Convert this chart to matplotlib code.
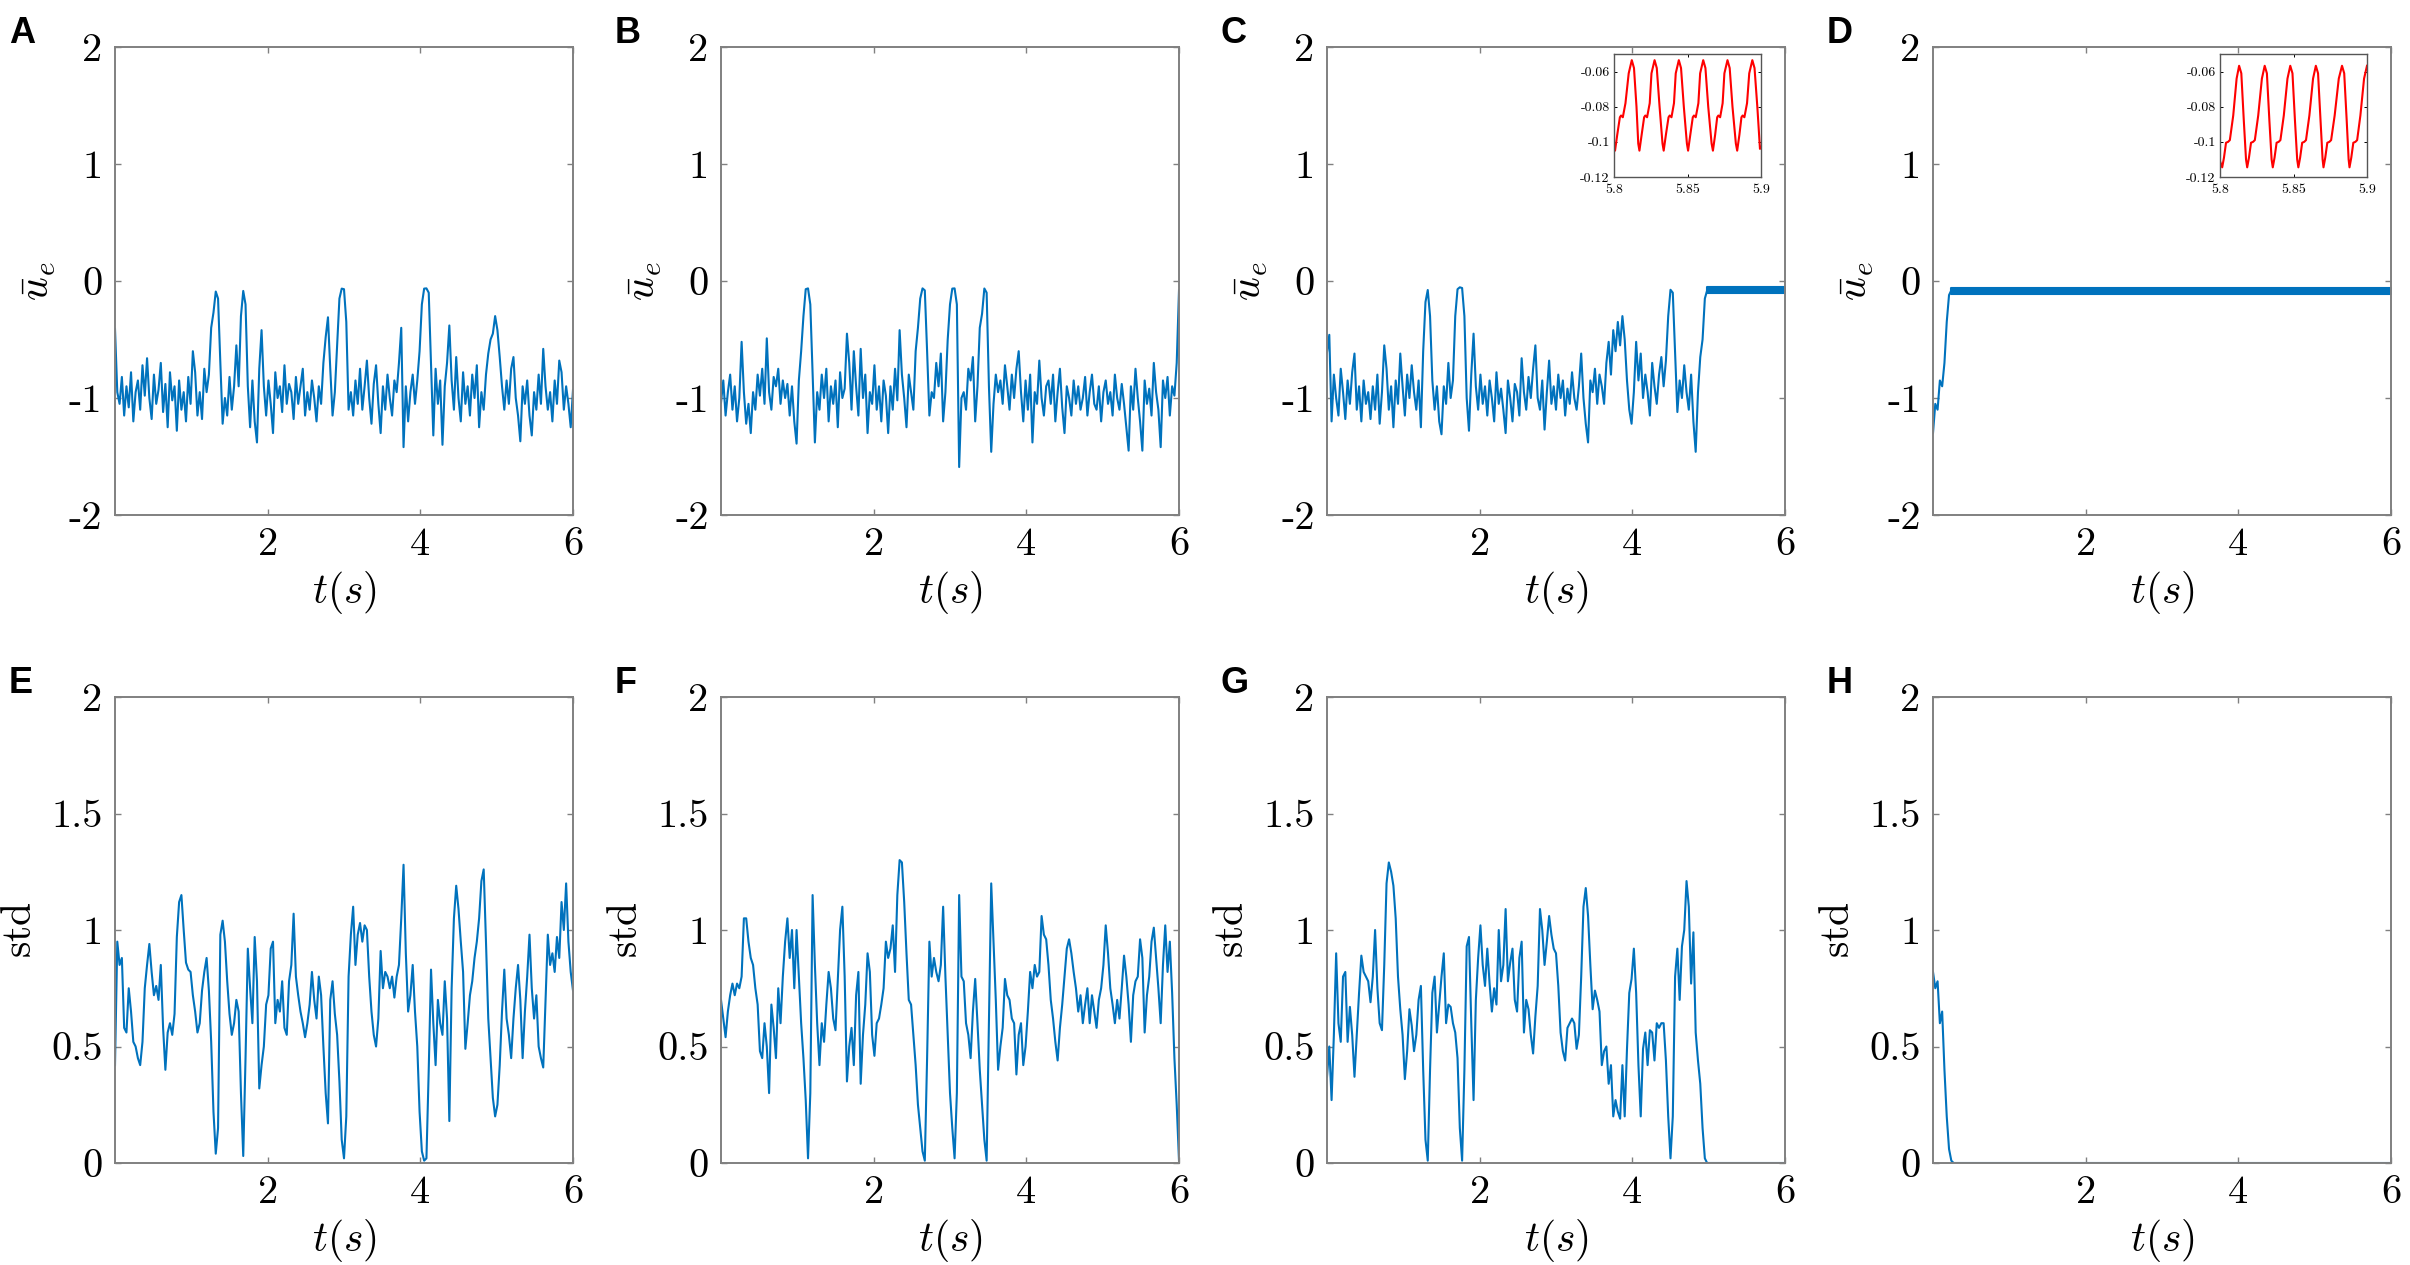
import numpy as np
import matplotlib.pyplot as plt

plt.rcParams['mathtext.fontset'] = 'cm'
plt.rcParams['axes.unicode_minus'] = False

DT = 0.03

# mean membrane potential, panels A-C (0.03 s apart)
A_ue = [-0.41, -0.95, -1.05, -0.82, -1.15, -0.9, -1.08, -0.78, -1.2, -0.95,
        -0.85, -1.1, -0.72, -0.98, -0.66, -1.0, -1.18, -0.8, -1.05, -0.93,
        -0.7, -1.12, -0.88, -1.25, -0.78, -1.02, -0.9, -1.28, -0.85, -1.1,
        -0.95, -1.2, -0.82, -1.05, -0.6, -0.78, -1.15, -0.95, -1.18, -0.75,
        -0.95, -0.8, -0.4, -0.27, -0.09, -0.15, -0.7, -1.22, -1.0, -1.15,
        -0.82, -1.1, -0.9, -0.55, -0.9, -0.3, -0.085, -0.2, -0.9, -1.25,
        -0.85, -1.2, -1.38, -0.75, -0.42, -0.9, -1.15, -0.85, -1.05, -1.3,
        -0.78, -1.0, -0.9, -1.12, -0.72, -1.05, -0.88, -0.95, -1.18, -0.82,
        -1.05, -0.9, -0.75, -1.15, -0.95, -1.1, -0.85, -1.0, -1.2, -0.9,
        -1.05, -0.7, -0.48, -0.31, -0.75, -1.15, -0.95, -0.55, -0.15, -0.065,
        -0.07, -0.35, -1.1, -0.95, -1.15, -0.85, -1.05, -0.75, -1.1, -0.9,
        -0.68, -1.0, -1.22, -0.88, -0.72, -1.05, -1.3, -0.9, -1.1, -0.8,
        -1.0, -1.15, -0.85, -0.95, -0.7, -0.4, -1.42, -0.9, -1.2, -0.95,
        -0.8, -1.05, -0.85, -0.6, -0.2, -0.065, -0.063, -0.1, -0.7, -1.32,
        -0.75, -1.05, -0.85, -1.4, -0.9, -0.7, -0.38, -0.85, -1.1, -0.65,
        -1.0, -1.2, -0.78, -1.05, -0.9, -1.15, -0.8, -1.0, -0.72, -1.25,
        -0.95, -1.1, -0.8, -0.62, -0.5, -0.45, -0.3, -0.42, -0.65, -0.9,
        -1.1, -0.85, -1.05, -0.75, -0.65, -1.0, -1.15, -1.37, -0.9, -1.05,
        -0.85, -1.15, -1.32, -0.95, -1.1, -0.8, -1.05, -0.58, -0.9, -1.1,
        -0.95, -1.2, -0.85, -1.05, -0.68, -0.78, -1.1, -0.9, -1.05, -1.25,
        -0.93]

B_ue = [-1.04, -0.85, -1.15, -0.95, -0.8, -1.1, -0.9, -1.2, -1.0, -0.52,
        -0.95, -1.22, -1.05, -1.3, -0.95, -1.1, -0.8, -0.98, -0.75, -1.05,
        -0.49, -0.95, -1.1, -0.82, -0.9, -0.75, -1.05, -0.85, -1.0, -0.88,
        -1.15, -0.9, -1.2, -1.39, -0.85, -0.6, -0.3, -0.07, -0.063, -0.2,
        -0.8, -1.38, -0.95, -1.1, -0.8, -1.0, -0.75, -1.2, -0.9, -1.05,
        -0.85, -1.25, -0.78, -1.0, -0.92, -0.45, -0.7, -1.1, -0.6, -0.9,
        -1.15, -0.58, -1.0, -0.8, -1.3, -0.95, -1.05, -0.72, -1.1, -0.9,
        -1.2, -0.85, -0.98, -1.3, -0.9, -1.1, -0.75, -1.02, -0.42, -0.8,
        -1.0, -1.25, -0.8, -0.95, -1.1, -0.6, -0.4, -0.15, -0.063, -0.08,
        -0.6, -1.15, -0.95, -1.0, -0.7, -0.9, -0.62, -1.2, -0.95, -0.5,
        -0.2, -0.065, -0.063, -0.2, -1.59, -1.0, -0.95, -1.1, -0.75, -0.85,
        -0.65, -1.2, -0.9, -0.4, -0.28, -0.064, -0.1, -0.9, -1.46, -1.05,
        -0.8, -0.95, -0.85, -1.05, -0.72, -0.9, -1.1, -0.8, -1.0, -0.75,
        -0.6, -0.95, -1.2, -0.85, -1.1, -0.8, -1.38, -0.95, -1.05, -0.68,
        -1.0, -1.15, -0.9, -0.85, -1.05, -0.8, -1.2, -0.95, -0.75, -1.08,
        -1.3, -0.9, -1.0, -1.15, -0.85, -1.05, -0.9, -1.1, -1.0, -0.82,
        -1.15, -0.95, -0.8, -1.05, -1.1, -0.9, -1.2, -0.95, -0.85, -1.05,
        -0.95, -1.15, -0.8, -1.0, -1.1, -0.88, -1.05, -1.25, -1.45, -0.9,
        -1.1, -0.75, -1.0, -1.2, -1.45, -0.85, -1.05, -0.92, -1.15, -0.7,
        -0.95, -1.1, -1.42, -0.85, -1.0, -0.82, -1.15, -0.9, -0.98, -0.7,
        -0.08]

C_ue = [-0.61, -0.46, -1.2, -0.8, -1.0, -1.15, -0.75, -0.95, -1.18, -0.85,
        -1.05, -0.78, -0.62, -1.1, -0.9, -1.2, -0.85, -1.05, -0.95, -1.18,
        -0.9, -1.1, -0.8, -1.22, -0.95, -0.55, -0.75, -1.1, -0.9, -1.25,
        -0.85, -1.05, -0.62, -0.9, -1.15, -0.8, -1.0, -0.72, -0.95, -1.1,
        -0.85, -1.25, -0.6, -0.18, -0.077, -0.3, -0.85, -1.1, -0.9, -1.2,
        -1.31, -0.9, -1.05, -0.7, -1.0, -0.85, -0.3, -0.07, -0.054, -0.06,
        -0.3, -1.0, -1.28, -0.8, -0.45, -0.9, -1.1, -0.8, -1.05, -0.9,
        -1.15, -0.85, -1.0, -1.2, -0.78, -1.05, -0.92, -1.1, -1.3, -0.85,
        -1.0, -1.2, -0.88, -0.95, -1.15, -0.66, -0.95, -1.1, -0.82, -1.0,
        -0.75, -0.55, -1.0, -1.1, -0.85, -1.27, -0.95, -0.68, -1.05, -0.9,
        -1.1, -0.8, -1.0, -0.85, -1.15, -0.92, -1.05, -0.78, -1.0, -1.1,
        -0.9, -0.62, -1.0, -1.22, -1.38, -0.85, -0.95, -0.75, -1.05, -0.8,
        -0.9, -1.05, -0.7, -0.52, -0.8, -0.42, -0.6, -0.35, -0.55, -0.3,
        -0.5, -0.85, -1.1, -1.22, -0.95, -0.52, -0.85, -0.62, -1.0, -0.8,
        -0.95, -1.15, -0.7, -0.9, -1.05, -0.8, -0.65, -0.9, -0.68, -0.3,
        -0.075, -0.1, -0.6, -1.12, -0.85, -1.0, -0.72, -0.95, -1.1, -0.8,
        -1.2, -1.46, -0.95, -0.65, -0.5, -0.15, -0.08]

D_t = [0.0, 0.03, 0.06, 0.09, 0.12, 0.15, 0.18, 0.21, 0.24]
D_ue = [-1.3, -1.05, -1.1, -0.85, -0.9, -0.7, -0.35, -0.12, -0.08]

# fast oscillation after the transition, drawn as a band (its min / max)
C_band_t = [4.98, 6.0]
C_band_lo = [-0.105, -0.105]
C_band_hi = [-0.053, -0.053]
D_band_t = [0.24, 6.0]
D_band_lo = [-0.114, -0.114]
D_band_hi = [-0.057, -0.057]

# standard deviation, panels E-H
E_std = [0.42, 0.95, 0.85, 0.88, 0.58, 0.56, 0.75, 0.65, 0.52, 0.5,
         0.45, 0.42, 0.52, 0.75, 0.85, 0.94, 0.82, 0.72, 0.76, 0.7,
         0.85, 0.58, 0.4, 0.56, 0.6, 0.55, 0.64, 0.97, 1.12, 1.15,
         1.0, 0.86, 0.83, 0.82, 0.72, 0.65, 0.56, 0.6, 0.74, 0.82,
         0.88, 0.74, 0.52, 0.22, 0.04, 0.15, 0.98, 1.04, 0.95, 0.78,
         0.64, 0.55, 0.6, 0.7, 0.65, 0.3, 0.03, 0.45, 0.92, 0.75,
         0.6, 0.97, 0.78, 0.32, 0.42, 0.5, 0.68, 0.72, 0.92, 0.95,
         0.6, 0.7, 0.65, 0.78, 0.58, 0.55, 0.78, 0.85, 1.07, 0.8,
         0.72, 0.65, 0.6, 0.54, 0.6, 0.68, 0.82, 0.7, 0.62, 0.8,
         0.72, 0.5, 0.3, 0.17, 0.7, 0.78, 0.64, 0.55, 0.35, 0.1,
         0.02, 0.2, 0.8, 0.98, 1.1, 0.85, 0.98, 1.03, 0.95, 1.02,
         1.0, 0.8, 0.65, 0.55, 0.5, 0.62, 0.91, 0.75, 0.82, 0.8,
         0.75, 0.8, 0.71, 0.8, 0.85, 1.05, 1.28, 0.9, 0.65, 0.72,
         0.85, 0.65, 0.5, 0.22, 0.05, 0.01, 0.02, 0.4, 0.83, 0.6,
         0.42, 0.7, 0.6, 0.55, 0.78, 0.62, 0.18, 0.75, 1.05, 1.19,
         1.09, 0.95, 0.82, 0.49, 0.6, 0.72, 0.78, 0.88, 0.95, 1.05,
         1.21, 1.26, 0.95, 0.62, 0.45, 0.28, 0.2, 0.25, 0.42, 0.65,
         0.83, 0.62, 0.55, 0.45, 0.62, 0.75, 0.85, 0.7, 0.45, 0.65,
         0.8, 0.98, 0.75, 0.62, 0.72, 0.5, 0.45, 0.41, 0.7, 0.98,
         0.85, 0.9, 0.82, 0.97, 0.88, 1.12, 1.0, 1.2, 0.95, 0.82,
         0.74]

F_std = [0.7, 0.62, 0.54, 0.65, 0.72, 0.77, 0.72, 0.77, 0.75, 0.8,
         1.05, 1.05, 0.95, 0.88, 0.85, 0.75, 0.68, 0.48, 0.45, 0.6,
         0.5, 0.3, 0.68, 0.58, 0.45, 0.75, 0.6, 0.8, 0.95, 1.05,
         0.88, 1.0, 0.75, 1.0, 0.8, 0.6, 0.45, 0.27, 0.02, 0.3,
         1.15, 0.85, 0.6, 0.42, 0.6, 0.52, 0.68, 0.82, 0.75, 0.62,
         0.57, 0.78, 1.0, 1.1, 0.8, 0.35, 0.5, 0.58, 0.42, 0.72,
         0.82, 0.34, 0.55, 0.68, 0.9, 0.82, 0.55, 0.46, 0.6, 0.62,
         0.68, 0.75, 0.95, 0.88, 0.92, 1.02, 0.82, 1.15, 1.3, 1.29,
         1.12, 0.9, 0.7, 0.68, 0.55, 0.42, 0.25, 0.15, 0.05, 0.01,
         0.45, 0.95, 0.8, 0.88, 0.82, 0.78, 0.85, 1.1, 0.8, 0.55,
         0.3, 0.15, 0.02, 0.3, 1.15, 0.8, 0.78, 0.6, 0.55, 0.45,
         0.65, 0.79, 0.6, 0.4, 0.25, 0.1, 0.01, 0.6, 1.2, 0.95,
         0.7, 0.4, 0.5, 0.58, 0.79, 0.72, 0.7, 0.62, 0.6, 0.38,
         0.55, 0.6, 0.42, 0.5, 0.65, 0.82, 0.75, 0.85, 0.8, 0.82,
         1.06, 0.98, 0.96, 0.85, 0.7, 0.62, 0.52, 0.44, 0.58, 0.68,
         0.8, 0.92, 0.96, 0.9, 0.82, 0.75, 0.65, 0.72, 0.6, 0.68,
         0.75, 0.6, 0.72, 0.65, 0.58, 0.7, 0.75, 0.85, 1.02, 0.9,
         0.75, 0.68, 0.6, 0.7, 0.62, 0.75, 0.89, 0.8, 0.68, 0.52,
         0.72, 0.78, 0.8, 0.96, 0.88, 0.56, 0.72, 0.8, 0.95, 1.01,
         0.88, 0.75, 0.6, 0.85, 1.02, 0.82, 0.95, 0.73, 0.45, 0.25,
         0.01]

G_std = [0.37, 0.5, 0.27, 0.55, 0.9, 0.6, 0.52, 0.8, 0.82, 0.52,
         0.67, 0.55, 0.37, 0.55, 0.73, 0.89, 0.82, 0.8, 0.78, 0.69,
         0.8, 1.0, 0.75, 0.6, 0.57, 0.85, 1.2, 1.29, 1.25, 1.19,
         1.05, 0.8, 0.66, 0.55, 0.36, 0.48, 0.66, 0.59, 0.48, 0.55,
         0.7, 0.76, 0.4, 0.1, 0.01, 0.4, 0.73, 0.8, 0.56, 0.68,
         0.8, 0.9, 0.6, 0.68, 0.67, 0.6, 0.56, 0.45, 0.15, 0.01,
         0.4, 0.93, 0.97, 0.6, 0.27, 0.7, 0.88, 1.02, 0.85, 0.76,
         0.92, 0.77, 0.65, 0.75, 0.68, 1.0, 0.78, 0.85, 1.09, 0.78,
         0.86, 0.92, 0.7, 0.65, 0.88, 0.95, 0.56, 0.7, 0.66, 0.55,
         0.47, 0.63, 0.76, 1.09, 1.0, 0.85, 0.95, 1.06, 0.98, 0.92,
         0.9, 0.76, 0.56, 0.48, 0.44, 0.58, 0.6, 0.62, 0.6, 0.49,
         0.55, 0.8, 1.1, 1.18, 1.06, 0.85, 0.66, 0.74, 0.7, 0.65,
         0.42, 0.48, 0.5, 0.34, 0.42, 0.2, 0.27, 0.22, 0.19, 0.42,
         0.2, 0.49, 0.73, 0.79, 0.92, 0.73, 0.42, 0.2, 0.49, 0.56,
         0.42, 0.57, 0.56, 0.44, 0.6, 0.58, 0.6, 0.6, 0.44, 0.2,
         0.02, 0.2, 0.8, 0.92, 0.7, 0.93, 1.0, 1.21, 1.1, 0.77,
         0.99, 0.56, 0.44, 0.34, 0.15, 0.02, 0.0]
G_tail_t = [6.0]
G_tail = [0.0]

H_t = [0.0, 0.03, 0.06, 0.09, 0.12, 0.15, 0.18, 0.21, 0.24, 0.27, 6.0]
H_std = [0.82, 0.75, 0.78, 0.6, 0.65, 0.4, 0.2, 0.06, 0.01, 0.0, 0.0]

# insets: zoom of the oscillation, 5.8-5.9 s
C_in_t = [5.8000, 5.8007, 5.8022, 5.8040, 5.8048, 5.8060, 5.8078, 5.8100, 5.8121, 5.8136, 5.8153, 5.8165,
          5.8173, 5.8188, 5.8205, 5.8213, 5.8225, 5.8243, 5.8255, 5.8276, 5.8291, 5.8310, 5.8330,
          5.8338, 5.8353, 5.8371, 5.8379, 5.8391, 5.8408, 5.8420, 5.8441, 5.8456, 5.8475, 5.8496,
          5.8504, 5.8519, 5.8536, 5.8544, 5.8556, 5.8574, 5.8586, 5.8607, 5.8622, 5.8641, 5.8664,
          5.8673, 5.8688, 5.8702, 5.8710, 5.8722, 5.8739, 5.8751, 5.8772, 5.8787, 5.8806, 5.8829,
          5.8838, 5.8853, 5.8867, 5.8875, 5.8887, 5.8905, 5.8920, 5.8941, 5.8956, 5.8975, 5.8993, 5.9000]
C_in_v = [-0.101, -0.105, -0.096, -0.086, -0.085, -0.086, -0.078, -0.061, -0.0535, -0.058, -0.080, -0.101,
          -0.105, -0.096, -0.086, -0.085, -0.086, -0.078, -0.061, -0.0535, -0.058, -0.080, -0.101,
          -0.105, -0.096, -0.086, -0.085, -0.086, -0.078, -0.061, -0.0535, -0.058, -0.080, -0.101,
          -0.105, -0.096, -0.086, -0.085, -0.086, -0.078, -0.061, -0.0535, -0.058, -0.080, -0.101,
          -0.105, -0.096, -0.086, -0.085, -0.086, -0.078, -0.061, -0.0535, -0.058, -0.080, -0.101,
          -0.105, -0.096, -0.086, -0.085, -0.086, -0.078, -0.061, -0.0535, -0.058, -0.080, -0.104, -0.103]

D_in_t = [5.8000, 5.8015, 5.8027, 5.8041, 5.8055, 5.8067, 5.8090, 5.8113, 5.8130, 5.8145, 5.8162, 5.8177,
          5.8185, 5.8197, 5.8211, 5.8225, 5.8237, 5.8260, 5.8285, 5.8304, 5.8319, 5.8336, 5.8351,
          5.8359, 5.8371, 5.8385, 5.8399, 5.8411, 5.8434, 5.8459, 5.8478, 5.8493, 5.8510, 5.8525,
          5.8533, 5.8545, 5.8559, 5.8573, 5.8585, 5.8608, 5.8633, 5.8652, 5.8667, 5.8684, 5.8698,
          5.8704, 5.8716, 5.8730, 5.8744, 5.8756, 5.8780, 5.8808, 5.8830, 5.8845, 5.8862, 5.8875,
          5.8881, 5.8893, 5.8907, 5.8921, 5.8933, 5.8955, 5.8980, 5.9000]
D_in_v = [-0.111, -0.1145, -0.109, -0.1005, -0.100, -0.099, -0.085, -0.064, -0.0567, -0.061, -0.088, -0.110,
          -0.1145, -0.109, -0.1005, -0.100, -0.099, -0.085, -0.064, -0.0567, -0.061, -0.088, -0.110,
          -0.1145, -0.109, -0.1005, -0.100, -0.099, -0.085, -0.064, -0.0567, -0.061, -0.088, -0.110,
          -0.1145, -0.109, -0.1005, -0.100, -0.099, -0.085, -0.064, -0.0567, -0.061, -0.088, -0.110,
          -0.1145, -0.109, -0.1005, -0.100, -0.099, -0.085, -0.064, -0.0567, -0.061, -0.088, -0.110,
          -0.1145, -0.109, -0.1005, -0.100, -0.099, -0.085, -0.064, -0.0567]

top_yticks = [-2, -1, 0, 1, 2]
top_ylabels = ['-2', '-1', '0', '1', '2']
bot_yticks = [0, 0.5, 1, 1.5, 2]
bot_ylabels = ['0', '0.5', '1', '1.5', '2']
xticks = [2, 4, 6]
xlabels = ['2', '4', '6']
in_xticks = [5.8, 5.85, 5.9]
in_yticks = [-0.12, -0.1, -0.08, -0.06]

BLUE = '#0072BD'
GREY = '#808080'
W, H = 2410, 1265

fig = plt.figure(figsize=(W / 100, H / 100), dpi=100)


def px_axes(left, top, w, h):
    return fig.add_axes([left / W, 1 - (top + h) / H, w / W, h / H])


def style(ax, yt, yl, ylab, fs=29):
    ax.set_xlim(0, 6)
    ax.set_xticks(xticks)
    ax.set_xticklabels(xlabels, family='cmr10', fontsize=fs)
    ax.set_yticks(yt)
    ax.set_yticklabels(yl, family='cmr10', fontsize=fs)
    ax.set_ylim(yt[0], yt[-1])
    ax.tick_params(direction='in', length=4, width=1.0, color=GREY,
                   top=True, right=True, pad=9)
    for s in ax.spines.values():
        s.set_color(GREY)
        s.set_linewidth(1.4)
    ax.set_xlabel(r'$t(s)$', fontsize=30, labelpad=4)
    ax.set_ylabel(ylab, fontsize=30, labelpad=8)


def inset(ax, t, v):
    ax.plot(t, v, color='red', lw=1.5)
    ax.set_xlim(5.8, 5.9)
    ax.set_ylim(-0.12, -0.05)
    ax.set_xticks(in_xticks)
    ax.set_xticklabels(['5.8', '5.85', '5.9'], family='cmr10', fontsize=10)
    ax.set_yticks(in_yticks)
    ax.set_yticklabels(['-0.12', '-0.1', '-0.08', '-0.06'], family='cmr10', fontsize=10)
    ax.tick_params(direction='in', length=2, width=0.7, top=True, right=True)
    ax.tick_params(axis='x', pad=5)
    ax.tick_params(axis='y', pad=3)
    for s in ax.spines.values():
        s.set_color('#555555')
        s.set_linewidth(1.0)


lefts = [115, 721, 1327, 1933]
AW, AH = 458, 468
letters_top = 'ABCD'
letters_bot = 'EFGH'

t_full = np.arange(len(A_ue)) * DT
t_C = np.arange(len(C_ue)) * DT
t_G = np.arange(len(G_std)) * DT

top_axes = [px_axes(l, 47, AW, AH) for l in lefts]
bot_axes = [px_axes(l, 697, AW, 466) for l in lefts]

ax = top_axes[0]
ax.plot(t_full, A_ue, color=BLUE, lw=1.5)
ax = top_axes[1]
ax.plot(t_full, B_ue, color=BLUE, lw=1.5)
ax = top_axes[2]
ax.plot(t_C, C_ue, color=BLUE, lw=1.5)
ax.fill_between(C_band_t, C_band_lo, C_band_hi, color=BLUE, lw=1.5)
ax = top_axes[3]
ax.plot(D_t, D_ue, color=BLUE, lw=1.5)
ax.fill_between(D_band_t, D_band_lo, D_band_hi, color=BLUE, lw=1.5)

for ax in top_axes:
    style(ax, top_yticks, top_ylabels, r'$\bar{u}_e$')

bot_axes[0].plot(t_full, E_std, color=BLUE, lw=1.5)
bot_axes[1].plot(t_full, F_std, color=BLUE, lw=1.5)
bot_axes[2].plot(np.append(t_G, G_tail_t), G_std + G_tail, color=BLUE, lw=1.5)
bot_axes[3].plot(H_t, H_std, color=BLUE, lw=1.5)

for ax in bot_axes:
    style(ax, bot_yticks, bot_ylabels, r'$\mathrm{std}$')

inset(px_axes(lefts[2] + 287, 54, 147, 123), C_in_t, C_in_v)
inset(px_axes(lefts[3] + 287, 54, 147, 123), D_in_t, D_in_v)

for i, l in enumerate(lefts):
    fig.text((l - 106) / W, 1 - 16 / H, letters_top[i], fontsize=26,
             fontweight='bold', family='Liberation Sans', va='top', ha='left')
    fig.text((l - 106) / W, 1 - 666 / H, letters_bot[i], fontsize=26,
             fontweight='bold', family='Liberation Sans', va='top', ha='left')

fig.savefig('out.png', dpi=100)
